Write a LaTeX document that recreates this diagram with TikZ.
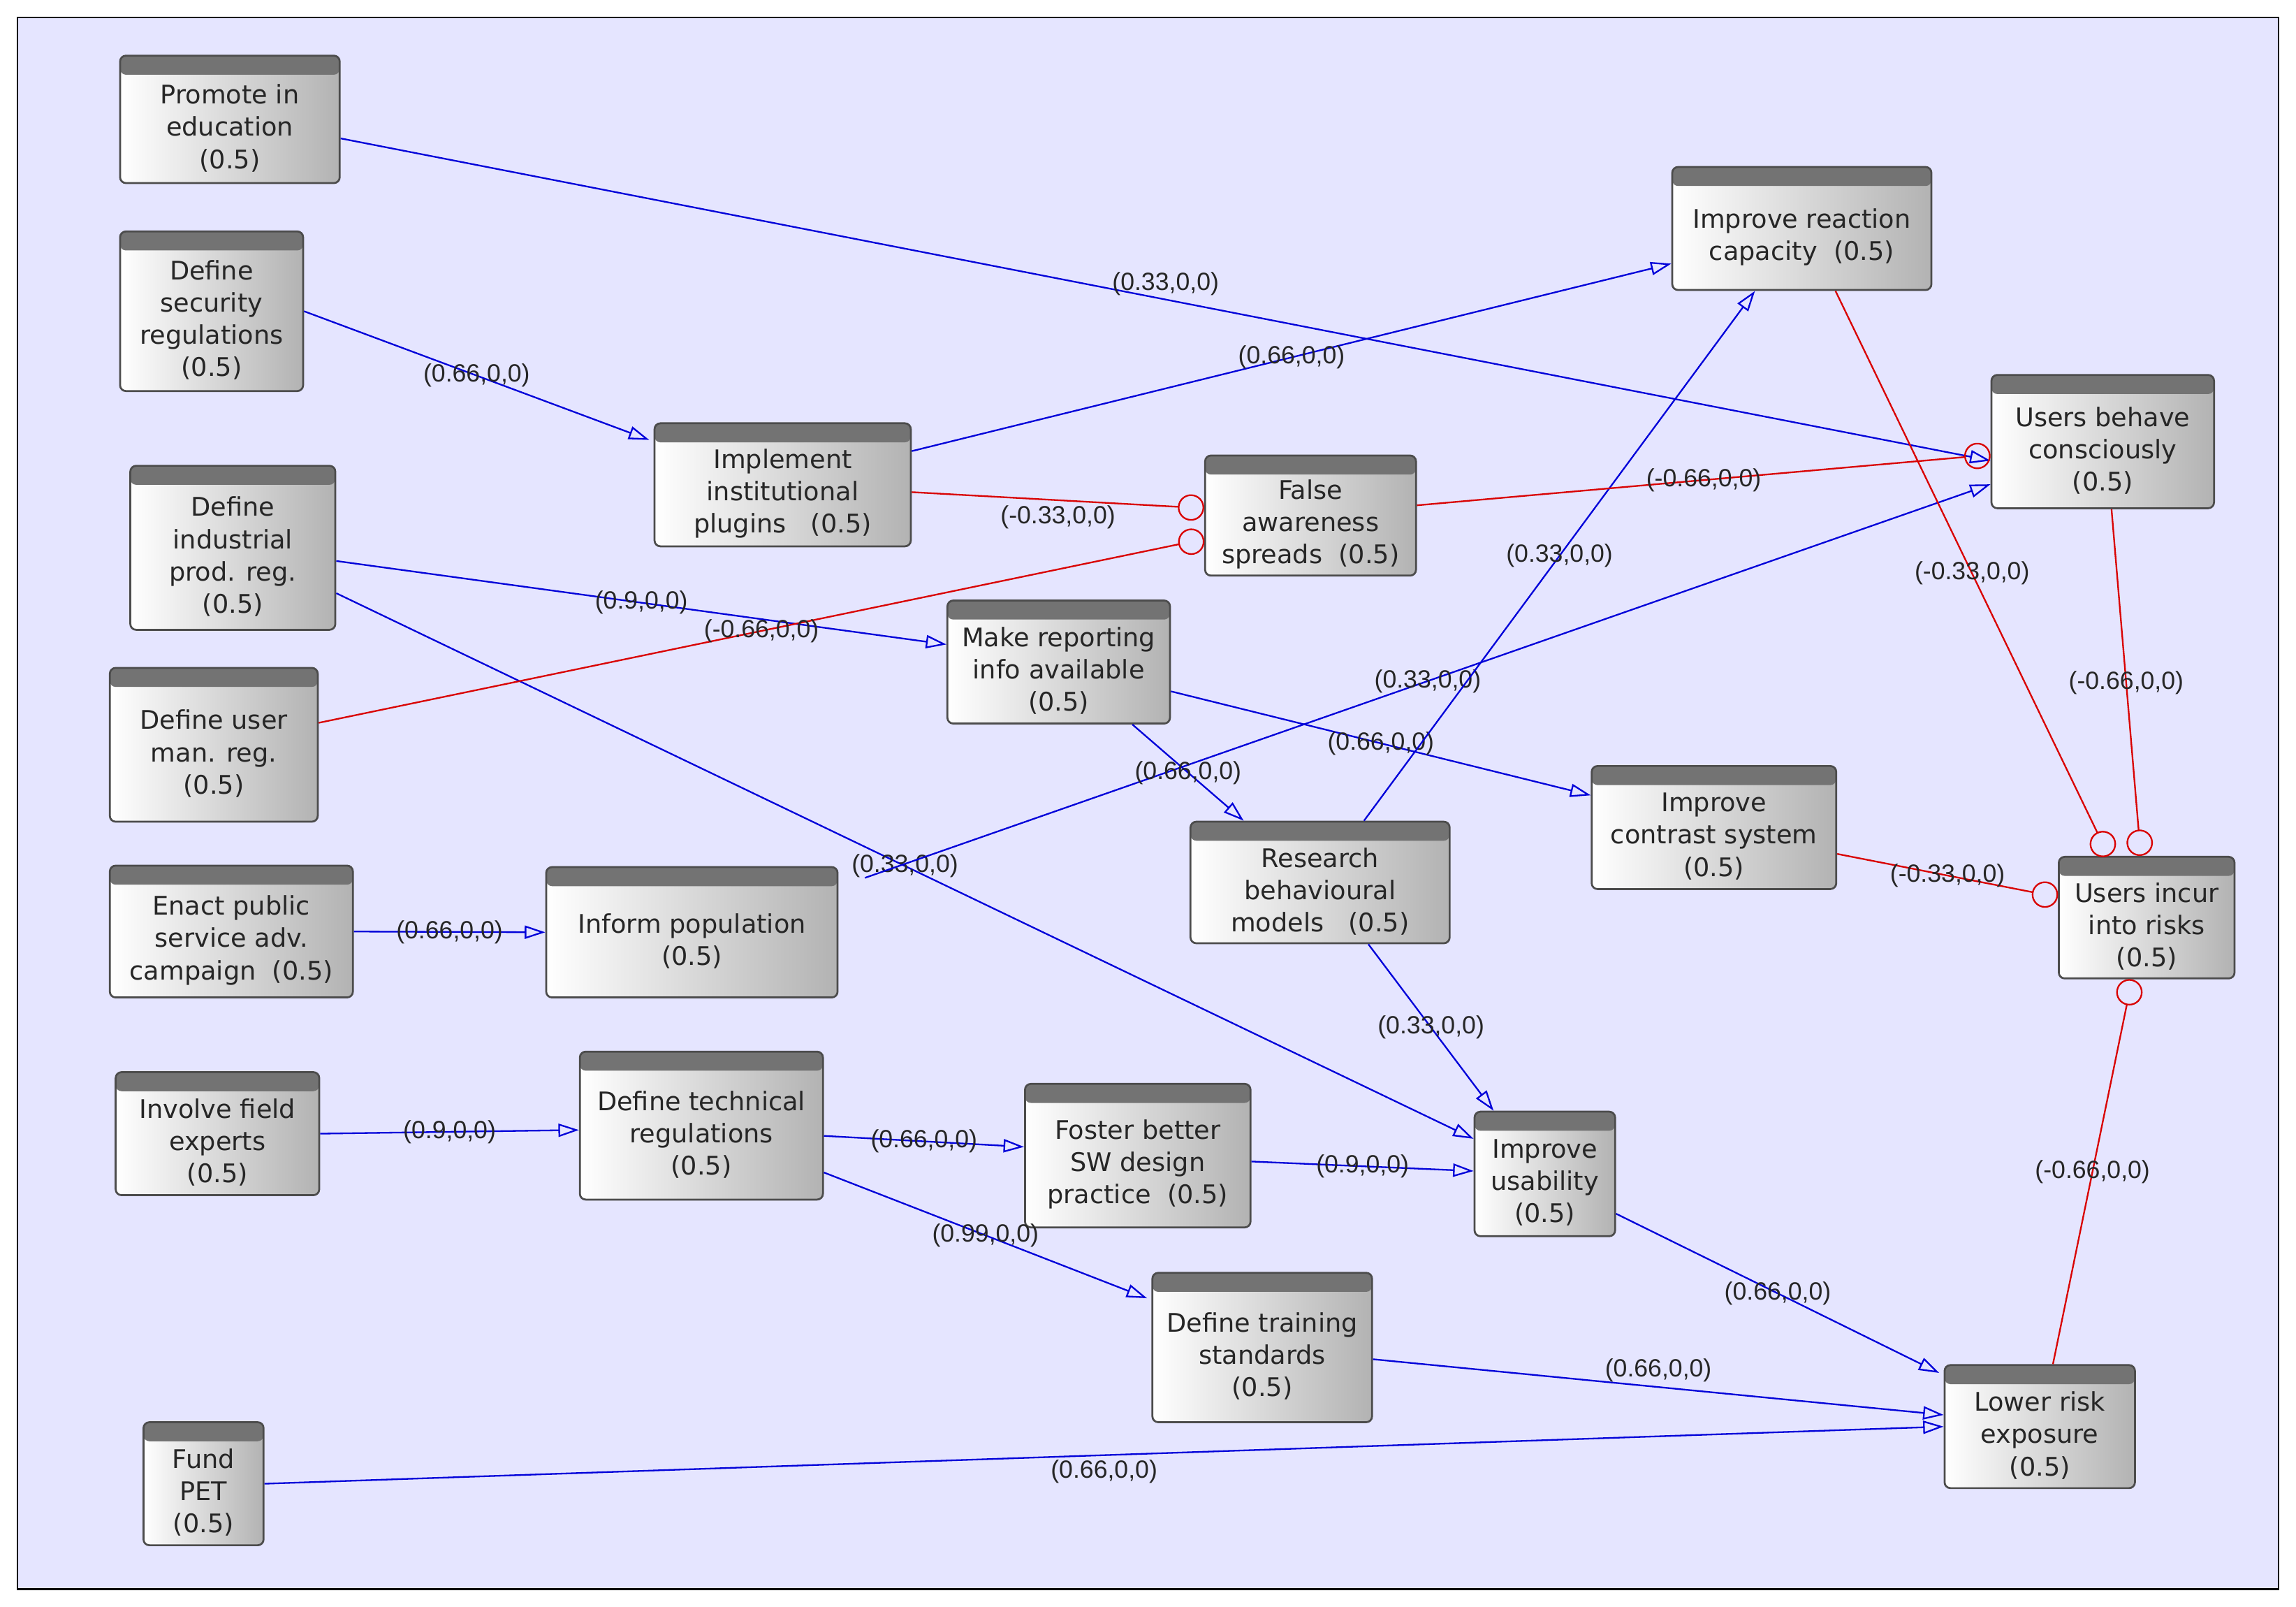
\documentclass[tikz,border=0pt]{standalone}
\usepackage{fontspec}
\setmainfont{DejaVu Sans}
\newfontfamily\lblfont{Liberation Sans}
\usetikzlibrary{arrows.meta}

\begin{document}
\begin{tikzpicture}[x=1pt, y=-1pt]
\tikzset{
  blk/.style={rectangle, rounded corners=4pt, draw=black!70, line width=1.3pt,
    left color=white, right color=black!30,
    path picture={\fill[black!55] (path picture bounding box.north west) rectangle ([yshift=-13pt]path picture bounding box.north east);}},
  txt/.style={align=center, font=\fontsize{17.5}{22}\selectfont, text=black!85, yshift=-6pt, inner sep=0pt},
  poslink/.style={draw=blue!85!black, line width=1.1pt, -{Triangle[open, length=14pt, width=9pt]}},
  neglink/.style={draw=red!85!black, line width=1.1pt, -{Circle[open, length=18pt, width=18pt]}},
  lbl/.style={midway, font=\lblfont\fontsize{17}{19}\selectfont, text=black!85, inner sep=1pt}
}
\useasboundingbox (0,0) rectangle (1568,1097);
\filldraw[fill=blue!10!white, draw=black, line width=1.2pt] (12,12) rectangle (1556,1085);

% source nodes
\node[blk, minimum width=150pt, minimum height=87pt, label={[txt]center:{Promote in\\education\\(0.5)}}] (edu) at (157,81.5) {};
\node[blk, minimum width=125pt, minimum height=109pt, label={[txt]center:{Define\\security\\regulations\\(0.5)}}] (secreg) at (144.5,212.5) {};
\node[blk, minimum width=140pt, minimum height=112pt, label={[txt]center:{Define\\industrial\\prod. reg.\\(0.5)}}] (indreg) at (159,374) {};
\node[blk, minimum width=142pt, minimum height=105pt, label={[txt]center:{Define user\\man. reg.\\(0.5)}}] (userreg) at (146,508.5) {};
\node[blk, minimum width=166pt, minimum height=90pt, label={[txt]center:{Enact public\\service adv.\\campaign~~(0.5)}}] (campaign) at (158,636) {};
\node[blk, minimum width=139pt, minimum height=84pt, label={[txt]center:{Involve field\\experts\\(0.5)}}] (experts) at (148.5,774) {};
\node[blk, minimum width=82pt, minimum height=84pt, label={[txt]center:{Fund\\PET\\(0.5)}}] (pet) at (139,1013) {};

% middle nodes
\node[blk, minimum width=175pt, minimum height=84pt, label={[txt]center:{Implement\\institutional\\plugins~~~(0.5)}}] (plugins) at (534.5,331) {};
\node[blk, minimum width=199pt, minimum height=89pt, label={[txt]center:{Inform population\\(0.5)}}] (inform) at (472.5,636.5) {};
\node[blk, minimum width=166pt, minimum height=101pt, label={[txt]center:{Define technical\\regulations\\(0.5)}}] (techreg) at (479,768.5) {};
\node[blk, minimum width=152pt, minimum height=84pt, label={[txt]center:{Make reporting\\info available\\(0.5)}}] (reporting) at (723,452) {};
\node[blk, minimum width=144pt, minimum height=82pt, label={[txt]center:{False\\awareness\\spreads~~(0.5)}}] (falseaw) at (895,352) {};
\node[blk, minimum width=177pt, minimum height=83pt, label={[txt]center:{Research\\behavioural\\models~~~(0.5)}}] (research) at (901.5,602.5) {};
\node[blk, minimum width=154pt, minimum height=98pt, label={[txt]center:{Foster better\\SW design\\practice~~(0.5)}}] (foster) at (777,789) {};
\node[blk, minimum width=150pt, minimum height=102pt, label={[txt]center:{Define training\\standards\\(0.5)}}] (training) at (862,920) {};
\node[blk, minimum width=96pt, minimum height=85pt, label={[txt]center:{Improve\\usability\\(0.5)}}] (usability) at (1055,801.5) {};

% right nodes
\node[blk, minimum width=177pt, minimum height=84pt, label={[txt]center:{Improve reaction\\capacity~~(0.5)}}] (reaction) at (1230.5,156) {};
\node[blk, minimum width=167pt, minimum height=84pt, label={[txt]center:{Improve\\contrast system\\(0.5)}}] (contrast) at (1170.5,565) {};
\node[blk, minimum width=152pt, minimum height=91pt, label={[txt]center:{Users behave\\consciously\\(0.5)}}] (behave) at (1436,301.5) {};
\node[blk, minimum width=120pt, minimum height=83pt, label={[txt]center:{Users incur\\into risks\\(0.5)}}] (risks) at (1466,626.5) {};
\node[blk, minimum width=130pt, minimum height=84pt, label={[txt]center:{Lower risk\\exposure\\(0.5)}}] (lower) at (1393,974) {};

% positive links
\draw[poslink] ([yshift=-13pt]edu.east) -- ([yshift=-13pt]behave.west) node[lbl, pos=0.5, above=1pt]{(0.33,0,0)};
\draw[poslink] (secreg.east) -- ([xshift=-3pt,yshift=-12pt]plugins.north west) node[lbl]{(0.66,0,0)};
\draw[poslink] ([yshift=23pt]plugins.east) -- ([yshift=-24pt]reaction.west) node[lbl]{(0.66,0,0)};
\draw[poslink] ([yshift=-9pt]indreg.east) -- ([yshift=12pt]reporting.west) node[lbl]{(0.9,0,0)};
\draw[poslink] ([yshift=-31pt]indreg.east) -- ([yshift=24pt]usability.west) node[lbl]{(0.33,0,0)};
\draw[poslink] ([xshift=18pt,yshift=-8pt]inform.north east) -- ([yshift=17pt]behave.south west) node[lbl]{(0.33,0,0)};
\draw[poslink] (campaign.east) -- (inform.west) node[lbl]{(0.66,0,0)};
\draw[poslink] (experts.east) -- ([yshift=-3pt]techreg.west) node[lbl]{(0.9,0,0)};
\draw[poslink] ([yshift=-7pt]techreg.east) -- ([yshift=6pt]foster.west) node[lbl]{(0.66,0,0)};
\draw[poslink] ([yshift=-32pt]techreg.east) -- ([xshift=-3pt,yshift=-18pt]training.north west) node[lbl]{(0.99,0,0)};
\draw[poslink] ([yshift=-4pt]foster.east) -- ([yshift=2pt]usability.west) node[lbl]{(0.9,0,0)};
\draw[poslink] ([xshift=127pt]reporting.south west) -- ([xshift=37pt]research.north west) node[lbl]{(0.66,0,0)};
\draw[poslink] ([yshift=-20pt]reporting.east) -- ([yshift=22pt]contrast.west) node[lbl]{(0.66,0,0)};
\draw[poslink] ([xshift=30pt]research.north) -- ([xshift=-32pt]reaction.south) node[lbl]{(0.33,0,0)};
\draw[poslink] ([xshift=33pt]research.south) -- ([xshift=-35pt]usability.north) node[lbl]{(0.33,0,0)};
\draw[poslink] ([yshift=16pt]usability.south east) -- ([xshift=-3pt,yshift=-6pt]lower.north west) node[lbl]{(0.66,0,0)};
\draw[poslink] ([yshift=-8pt]training.east) -- ([yshift=8pt]lower.west) node[lbl, above=2pt]{(0.66,0,0)};
\draw[poslink] (pet.east) -- (lower.west) node[lbl, below=2pt]{(0.66,0,0)};

% negative links
\draw[neglink] ([yshift=-5pt]plugins.east) -- ([yshift=5pt]falseaw.west) node[lbl, below=2pt]{(-0.33,0,0)};
\draw[neglink] ([yshift=15pt]userreg.east) -- ([yshift=-16pt]falseaw.west) node[lbl]{(-0.66,0,0)};
\draw[neglink] ([yshift=7pt]falseaw.east) -- ([yshift=-9pt]behave.west) node[lbl]{(-0.66,0,0)};
\draw[neglink] ([xshift=23pt]reaction.south) -- ([xshift=-26pt]risks.north) node[lbl]{(-0.33,0,0)};
\draw[neglink] ([xshift=6pt]behave.south) -- ([xshift=-4pt]risks.north) node[lbl]{(-0.66,0,0)};
\draw[neglink] ([yshift=-18pt]contrast.east) -- ([yshift=14pt]risks.west) node[lbl]{(-0.33,0,0)};
\draw[neglink] ([xshift=9pt]lower.north) -- ([xshift=-10pt]risks.south) node[lbl]{(-0.66,0,0)};
\end{tikzpicture}
\end{document}
